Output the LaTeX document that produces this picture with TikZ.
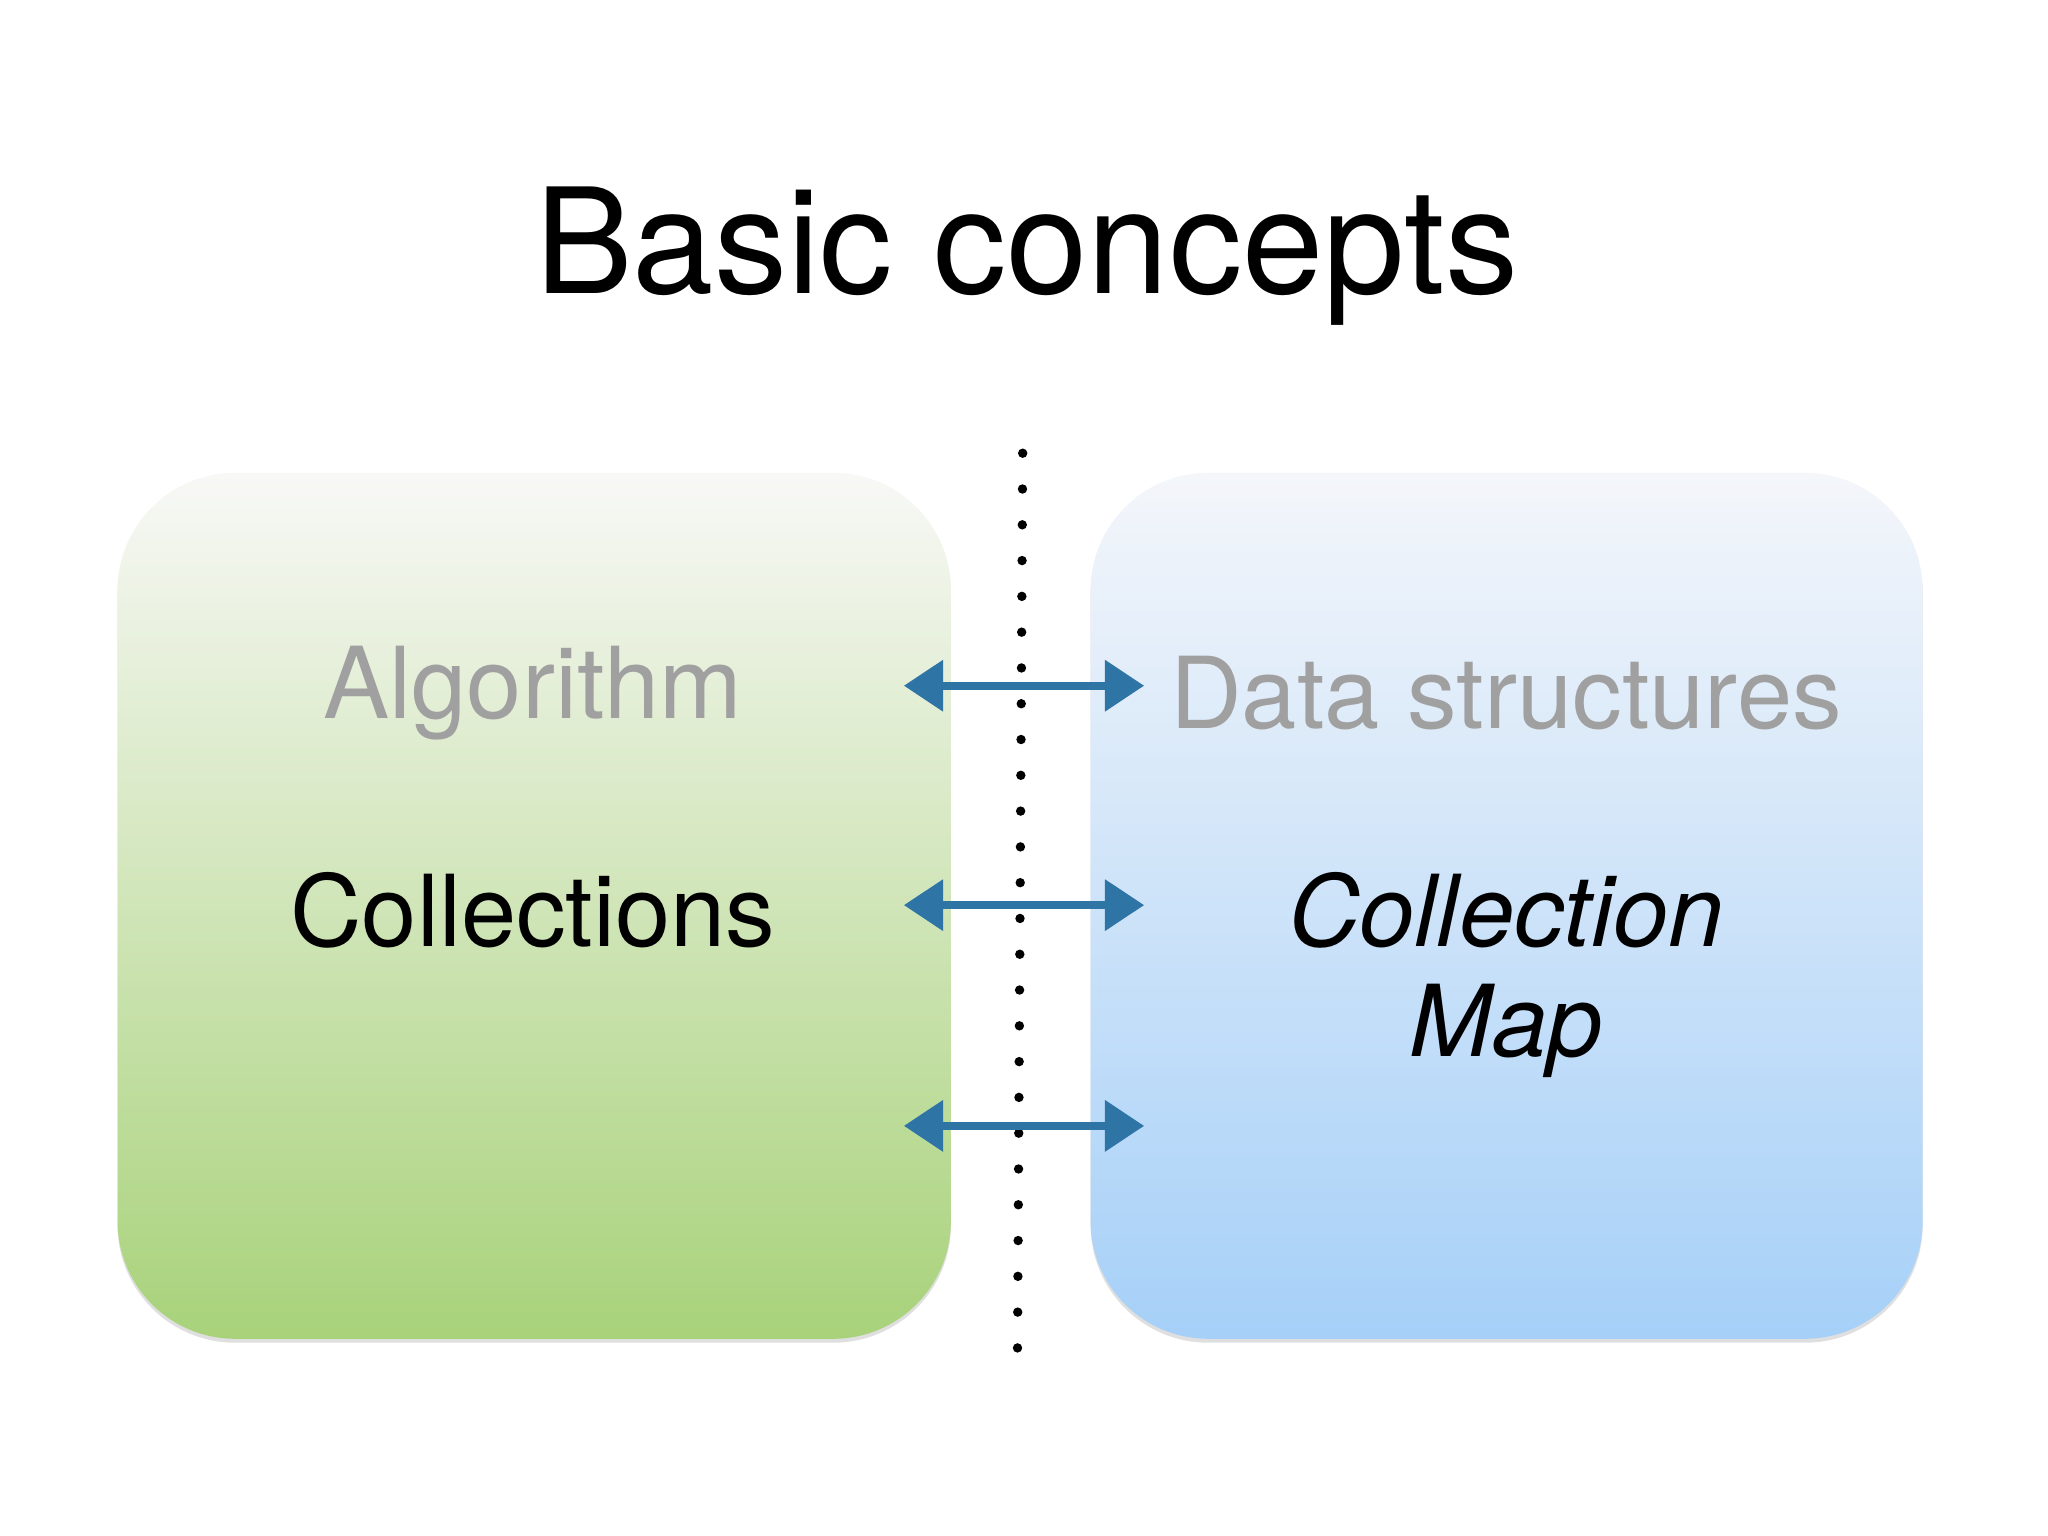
\documentclass[tikz,border=0pt]{standalone}
\usepackage{fontspec}
\setmainfont{TeX Gyre Heros}
\usetikzlibrary{arrows.meta,shadows}
\definecolor{arr}{HTML}{2E75A6}
\definecolor{txtgray}{HTML}{A0A0A0}
\begin{document}
\begin{tikzpicture}[x=0.5pt,y=-0.5pt,
  box/.style={rounded corners=45pt, drop shadow={shadow xshift=0pt,shadow yshift=-1.5pt,opacity=0.25}},
  link/.style={draw=arr, line width=3pt, {Triangle[width=19pt,length=15pt]}-{Triangle[width=19pt,length=15pt]}},
  lbl/.style={font=\fontsize{38}{44}\selectfont}]
\useasboundingbox (0,0) rectangle (1568,1176);
\fill[white] (0,0) rectangle (1568,1176);
\node[font=\fontsize{56}{64}\selectfont] (title) at (786,196) {Basic concepts};
\shade[box, top color={rgb,255:red,248;green,248;blue,246}, bottom color={rgb,255:red,168;green,210;blue,122}] (90,362) rectangle (728,1025);
\shade[box, top color={rgb,255:red,244;green,246;blue,250}, bottom color={rgb,255:red,166;green,208;blue,248}] (835,362) rectangle (1472,1025);
\coordinate (dtop) at (783,347);
\coordinate (dbot) at (779,1037);
\draw[line width=3.6pt, line cap=round, dash pattern=on 0pt off 13.7pt] (dtop) -- (dbot);
\node[lbl, text=txtgray] (alg) at (408,531) {Algorithm};
\node[lbl, text=txtgray] (ds) at (1153,531) {Data structures};
\node[lbl] (coll) at (408,697) {Collections};
\node[lbl, font=\fontsize{38}{44}\selectfont\itshape] (cm) at (1153,697) {Collection};
\node[lbl, font=\fontsize{38}{44}\selectfont\itshape] (map) at (1153,789) {Map};
\foreach \i/\y in {1/525,2/693,3/862}{
  \coordinate (l\i) at (692,\y);
  \coordinate (r\i) at (876,\y);
  \draw[link] (l\i) -- (r\i);
}
\end{tikzpicture}
\end{document}
